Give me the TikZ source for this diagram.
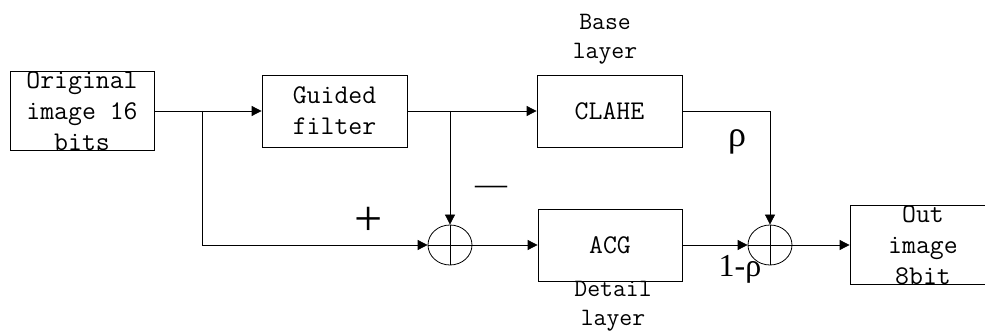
\documentclass[tikz,border=0pt]{standalone}
\usepackage{fontspec}
\newfontfamily\symfont{Liberation Serif}
\usetikzlibrary{arrows.meta,shapes.geometric}
\begin{document}
\begin{tikzpicture}[x=1pt,y=-1pt,
  line width=0.8pt,
  block/.style={draw,rectangle,minimum width=145pt,minimum height=72pt,inner sep=0pt,
    align=center,font=\ttfamily\fontsize{27}{31}\selectfont},
  tag/.style={align=center,inner sep=0pt,font=\ttfamily\fontsize{25}{29}\selectfont},
  sumnode/.style={draw,ellipse,minimum width=44pt,minimum height=40pt,inner sep=0pt},
  sym/.style={inner sep=0pt,font=\symfont\fontsize{32}{32}\selectfont},
  flow/.style={-{Triangle[length=10pt,width=10pt]}}]
  \useasboundingbox (0,0) rectangle (985,331);
  \clip (0,0) rectangle (985,331);

  % processing blocks
  \node[block,minimum width=144pt] (orig) at (82,111) {Original\\image 16\\bits};
  \node[block] (guide) at (334.5,111) {Guided\\filter};
  \node[block] (clahe) at (609.5,111) {CLAHE};
  \node[block,minimum width=144pt] (acg) at (610,245) {ACG};
  \node[block,minimum width=146pt] (out) at (923,245) {Out\\image\\8bit};

  % summing junctions
  \node[sumnode] (sa) at (450,245) {};
  \node[sumnode] (sb) at (770,245) {};
  \foreach \s in {sa,sb} {
    \draw (\s.north) -- (\s.south);
    \draw (\s.west) -- (\s.east);
  }

  % branch points
  \coordinate (ba) at (202,111);
  \coordinate (bb) at (450,111);

  % connectors
  \draw[flow] (orig.east) -- (guide.west);
  \draw[flow] (ba) |- (sa.west);
  \draw[flow] (guide.east) -- (clahe.west);
  \draw[flow] (bb) -- (sa.north);
  \draw[flow] (sa.east) -- (acg.west);
  \draw[flow] (clahe.east) -| (sb.north);
  \draw[flow] (acg.east) -- (sb.west);
  \draw[flow] (sb.east) -- (out.west);

  % labels
  \node[tag] (base) at (605,39) {Base\\layer};
  \node[tag] (detail) at (613,306) {Detail\\layer};
  \node[sym,font=\symfont\fontsize{50}{50}\selectfont] (plus) at (368.5,221.5) {+};
  \node[sym] (minus) at (491,190) {—};
  \node[sym,font=\symfont\fontsize{36}{36}\selectfont] (rho) at (737,142) {ρ};
  \node[sym] (rhoc) at (740,269) {1-ρ};
\end{tikzpicture}
\end{document}
